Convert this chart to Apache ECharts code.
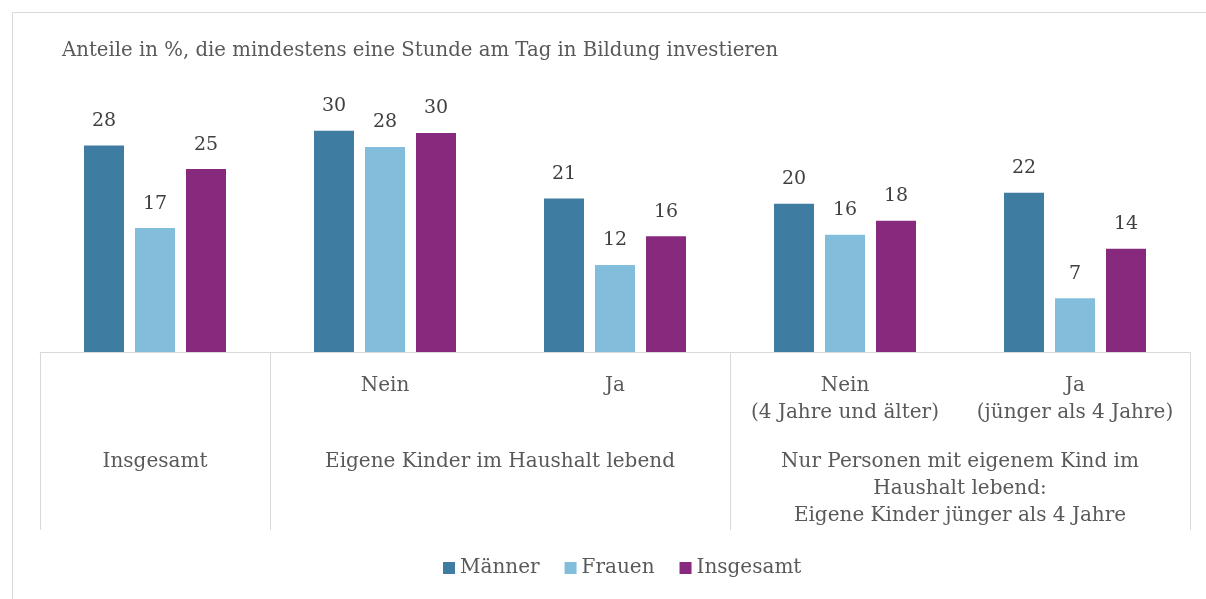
<!DOCTYPE html>
<html>
<head>
<meta charset="utf-8">
<script src="https://cdn.jsdelivr.net/npm/echarts@6/dist/echarts.min.js"></script>
<style>
  html, body { margin: 0; padding: 0; background: #fff; }
  #chart { width: 1206px; height: 599px; }
</style>
</head>
<body>
<div id="chart"></div>
<script>
// Daten
var kategorien = ['', 'Nein', 'Ja', 'Nein\n(4 Jahre und älter)', 'Ja\n(jünger als 4 Jahre)'];
var gruppen = ['Insgesamt', 'Eigene Kinder im Haushalt lebend', 'Nur Personen mit eigenem Kind im\nHaushalt lebend:\nEigene Kinder jünger als 4 Jahre'];
var maenner = [28.0, 30.0, 20.8, 20.1, 21.6];
var frauen = [16.8, 27.8, 11.8, 15.9, 7.3];
var insgesamt = [24.8, 29.7, 15.7, 17.8, 14.0];

var schrift = 'DejaVu Serif';
var chart = echarts.init(document.getElementById('chart'));

function label() {
  return {
    show: true,
    position: 'top',
    distance: 15,
    color: '#404040',
    fontFamily: schrift,
    fontSize: 19,
    formatter: function (p) { return Math.round(p.value); }
  };
}

var option = {
  backgroundColor: '#fff',
  animation: false,
  title: {
    text: 'Anteile in %, die mindestens eine Stunde am Tag in Bildung investieren',
    left: 57,
    top: 36,
    textStyle: { color: '#595959', fontFamily: schrift, fontSize: 19.7, fontWeight: 'normal' }
  },
  graphic: [{
    type: 'rect',
    shape: { x: 12.5, y: 12.5, width: 1300, height: 700 },
    style: { fill: 'none', stroke: '#d9d9d9', lineWidth: 1 },
    silent: true
  }],
  legend: {
    bottom: 16,
    left: 438,
    icon: 'rect',
    itemWidth: 12,
    itemHeight: 12,
    itemGap: 25,
    textStyle: { color: '#595959', fontFamily: schrift, fontSize: 20 },
    data: ['Männer', 'Frauen', 'Insgesamt']
  },
  grid: { left: 40, right: 16, top: 57, bottom: 247 },
  xAxis: [{
    type: 'category',
    data: kategorien,
    axisLine: { lineStyle: { color: '#d9d9d9' } },
    axisTick: { show: false },
    axisLabel: {
      color: '#595959',
      fontFamily: schrift,
      fontSize: 20,
      lineHeight: 27,
      margin: 20,
      interval: 0
    }
  }, {
    type: 'value',
    position: 'bottom',
    min: 0,
    max: 5,
    axisLine: { show: false },
    splitLine: { show: false },
    axisTick: {
      show: true,
      customValues: [0, 1, 3, 5],
      length: 178,
      lineStyle: { color: '#d9d9d9' }
    },
    axisLabel: {
      customValues: [0.5, 2, 4],
      formatter: function (v) {
        if (v < 1) return gruppen[0];
        if (v < 3) return gruppen[1];
        return gruppen[2];
      },
      color: '#595959',
      fontFamily: schrift,
      fontSize: 20,
      lineHeight: 27,
      margin: 96,
      align: 'center'
    }
  }],
  yAxis: { type: 'value', min: 0, max: 40, show: false },
  series: [
    { name: 'Männer', type: 'bar', data: maenner, barWidth: 40, barGap: '27.5%', itemStyle: { color: '#3e7ca1' }, label: label() },
    { name: 'Frauen', type: 'bar', data: frauen, barWidth: 40, barGap: '27.5%', itemStyle: { color: '#82bedb' }, label: label() },
    { name: 'Insgesamt', type: 'bar', data: insgesamt, barWidth: 40, barGap: '27.5%', itemStyle: { color: '#87297c' }, label: label() }
  ]
};

chart.setOption(option);
</script>
</body>
</html>
